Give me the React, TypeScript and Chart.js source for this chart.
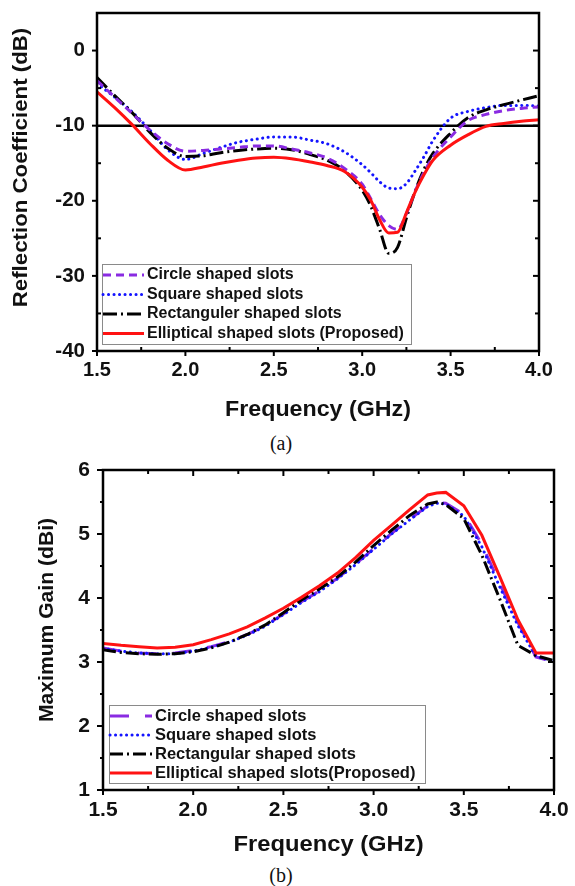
import React, { useEffect, useRef } from "react";
import { Chart, registerables } from "chart.js";
Chart.register(...registerables);

// ---------- (a) Reflection coefficient ----------
const freqA = [1.5, 1.6, 1.7, 1.8, 1.9, 2.0, 2.1, 2.2, 2.3, 2.4, 2.5, 2.6, 2.7, 2.8, 2.9, 3.0, 3.05, 3.1, 3.15, 3.2, 3.25, 3.3, 3.35, 3.4, 3.5, 3.6, 3.7, 3.8, 3.9, 4.0];
const circleA = [-4.0, -6.2, -8.4, -10.6, -12.4, -13.4, -13.3, -13.1, -12.9, -12.7, -12.7, -13.1, -13.6, -14.3, -15.7, -17.8, -19.8, -21.9, -23.3, -23.8, -21.7, -18.7, -16.2, -14.2, -11.5, -9.3, -8.5, -8.0, -7.7, -7.5];
const squareA = [-4.4, -6.2, -8.2, -10.6, -13.2, -14.5, -13.7, -12.9, -12.2, -11.8, -11.5, -11.5, -11.9, -12.4, -13.5, -15.2, -16.3, -17.5, -18.3, -18.4, -17.7, -16.0, -14.1, -12.0, -9.0, -8.1, -7.6, -7.3, -7.3, -7.4];
const rectA = [-3.6, -6.0, -8.3, -10.9, -13.0, -14.1, -14.0, -13.6, -13.3, -13.1, -13.0, -13.2, -13.8, -14.6, -16.0, -18.6, -20.8, -23.9, -27.0, -26.2, -22.3, -18.7, -15.8, -13.7, -11.0, -8.9, -7.9, -7.2, -6.6, -6.0];
const ellipA = [-5.5, -7.6, -9.9, -12.4, -14.6, -15.9, -15.5, -15.0, -14.6, -14.3, -14.2, -14.4, -14.8, -15.3, -16.1, -18.2, -20.0, -22.6, -24.3, -24.2, -21.6, -18.8, -16.5, -14.6, -12.6, -11.2, -10.1, -9.7, -9.4, -9.2];
const thresholdA = -10;
const labelsA = ["Circle shaped slots", "Square shaped slots", "Rectanguler shaped slots", "Elliptical shaped slots (Proposed)"];
const yTicksA = [-40, -30, -20, -10, 0];
const yMinorA = [-35, -25, -15, -5];

// ---------- (b) Maximum gain ----------
const freqB = [1.5, 1.6, 1.7, 1.8, 1.9, 2.0, 2.1, 2.2, 2.3, 2.4, 2.5, 2.6, 2.7, 2.8, 2.9, 3.0, 3.1, 3.2, 3.3, 3.35, 3.4, 3.5, 3.6, 3.7, 3.8, 3.9, 4.0];
const circleB = [3.22, 3.17, 3.14, 3.13, 3.14, 3.18, 3.24, 3.32, 3.43, 3.57, 3.75, 3.94, 4.11, 4.31, 4.53, 4.77, 5.01, 5.23, 5.44, 5.49, 5.48, 5.31, 4.84, 4.22, 3.62, 3.08, 3.0];
const squareB = [3.21, 3.17, 3.14, 3.13, 3.13, 3.17, 3.23, 3.31, 3.42, 3.56, 3.74, 3.93, 4.1, 4.3, 4.52, 4.76, 5.0, 5.22, 5.43, 5.48, 5.47, 5.28, 4.8, 4.17, 3.57, 3.09, 3.01];
const rectB = [3.19, 3.15, 3.13, 3.12, 3.13, 3.16, 3.22, 3.31, 3.43, 3.58, 3.77, 3.97, 4.14, 4.33, 4.56, 4.82, 5.06, 5.29, 5.47, 5.5, 5.46, 5.24, 4.67, 3.98, 3.26, 3.1, 3.02];
const ellipB = [3.29, 3.26, 3.24, 3.22, 3.23, 3.27, 3.35, 3.44, 3.55, 3.69, 3.84, 4.01, 4.19, 4.39, 4.63, 4.9, 5.14, 5.38, 5.61, 5.64, 5.65, 5.44, 4.98, 4.33, 3.66, 3.14, 3.14];
const labelsB = ["Circle shaped slots", "Square shaped slots", "Rectangular shaped slots", "Elliptical shaped slots(Proposed)"];
const yTicksB = [1, 2, 3, 4, 5, 6];
const yMinorB = [1.5, 2.5, 3.5, 4.5, 5.5];

// ---------- shared ----------
const xTicks = [1.5, 2.0, 2.5, 3.0, 3.5, 4.0];
const xMinor = [1.75, 2.25, 2.75, 3.25, 3.75];

const SANS = "'Liberation Sans', Arial, Helvetica, sans-serif";
const PURPLE = "#8a2be2";
const BLUE = "#1414ff";
const BLACK = "#000000";
const RED = "#ff1212";

type SideSpec = { major: number; minor: number };

function decorPlugin(cfg: { sides: Record<string, SideSpec>; minorX: number[]; minorY: number[]; frame: number }) {
  return {
    id: "decor",
    afterDatasetsDraw(chart: any) {
      const { ctx, chartArea: a, scales } = chart;
      const xs = scales.x, ys = scales.y;
      ctx.save();
      ctx.strokeStyle = "#000";
      ctx.lineCap = "butt";
      ctx.lineWidth = 2;
      const seg = (x1: number, y1: number, x2: number, y2: number) => {
        ctx.beginPath(); ctx.moveTo(x1, y1); ctx.lineTo(x2, y2); ctx.stroke();
      };
      const xMaj = xs.ticks.map((t: any) => t.value);
      const yMaj = ys.ticks.map((t: any) => t.value);
      const doX = (vals: number[], len: number, side: string) => {
        if (!len) return;
        vals.forEach((v) => {
          const p = xs.getPixelForValue(v);
          if (side === "bottom") seg(p, a.bottom, p, a.bottom + len);
          else seg(p, a.top, p, a.top - len);
        });
      };
      const doY = (vals: number[], len: number, side: string) => {
        if (!len) return;
        vals.forEach((v) => {
          const p = ys.getPixelForValue(v);
          if (side === "left") seg(a.left, p, a.left - len, p);
          else seg(a.right, p, a.right + len, p);
        });
      };
      const s = cfg.sides;
      if (s.bottom) { doX(xMaj, s.bottom.major, "bottom"); doX(cfg.minorX, s.bottom.minor, "bottom"); }
      if (s.top) { doX(xMaj, s.top.major, "top"); doX(cfg.minorX, s.top.minor, "top"); }
      if (s.left) { doY(yMaj, s.left.major, "left"); doY(cfg.minorY, s.left.minor, "left"); }
      if (s.right) { doY(yMaj, s.right.major, "right"); doY(cfg.minorY, s.right.minor, "right"); }
      ctx.lineWidth = cfg.frame;
      ctx.strokeRect(a.left, a.top, a.right - a.left, a.bottom - a.top);
      ctx.restore();
    },
  };
}

function legendPlugin(cfg: { dx: number; dy: number; w: number; h: number; first: number; gap: number; s0: number; s1: number; tx: number; size: number }) {
  return {
    id: "boxLegend",
    afterDraw(chart: any) {
      const { ctx, chartArea: a } = chart;
      const items = chart.data.datasets.filter((d: any) => d.label);
      const left = a.left + cfg.dx;
      const top = a.bottom - cfg.dy - cfg.h;
      ctx.save();
      ctx.fillStyle = "#fff";
      ctx.fillRect(left, top, cfg.w, cfg.h);
      ctx.strokeStyle = "#8a8a8a";
      ctx.lineWidth = 1;
      ctx.strokeRect(left + 0.5, top + 0.5, cfg.w, cfg.h);
      items.forEach((d: any, i: number) => {
        const y = top + cfg.first + i * cfg.gap;
        ctx.strokeStyle = d.borderColor;
        ctx.lineWidth = d.borderWidth;
        ctx.lineCap = d.borderCapStyle || "butt";
        ctx.setLineDash(d.borderDash || []);
        ctx.beginPath();
        ctx.moveTo(left + cfg.s0, y);
        ctx.lineTo(left + cfg.s1, y);
        ctx.stroke();
        ctx.setLineDash([]);
        ctx.fillStyle = "#111";
        ctx.font = `bold ${cfg.size}px ${SANS}`;
        ctx.textAlign = "left";
        ctx.textBaseline = "middle";
        ctx.fillText(d.label, left + cfg.tx, y);
      });
      ctx.restore();
    },
  };
}

function titlesPlugin(cfg: {
  x: { text: string; size: number; stretch: number; dy: number };
  y: { text: string; size: number; stretch: number; dx: number; dy: number };
}) {
  return {
    id: "axisTitles",
    afterDraw(chart: any) {
      const { ctx, chartArea: a } = chart;
      ctx.save();
      ctx.fillStyle = "#111";
      ctx.textAlign = "center";
      ctx.textBaseline = "middle";
      ctx.font = `bold ${cfg.x.size}px ${SANS}`;
      ctx.translate((a.left + a.right) / 2, a.bottom + cfg.x.dy);
      ctx.scale(cfg.x.stretch, 1);
      ctx.fillText(cfg.x.text, 0, 0);
      ctx.restore();
      ctx.save();
      ctx.fillStyle = "#111";
      ctx.textAlign = "center";
      ctx.textBaseline = "middle";
      ctx.font = `bold ${cfg.y.size}px ${SANS}`;
      ctx.translate(a.left + cfg.y.dx, (a.top + a.bottom) / 2 + cfg.y.dy);
      ctx.rotate(-Math.PI / 2);
      ctx.scale(cfg.y.stretch, 1);
      ctx.fillText(cfg.y.text, 0, 0);
      ctx.restore();
    },
  };
}

const pts = (xs: number[], ys: number[]) => xs.map((x, i) => ({ x, y: ys[i] }));

const fixX = (h: number) => (s: any) => { s.height = h; s.paddingLeft = 0; s.paddingRight = 0; s.paddingTop = 0; s.paddingBottom = 0; };
const fixY = (w: number) => (s: any) => { s.width = w; s.paddingLeft = 0; s.paddingRight = 0; s.paddingTop = 0; s.paddingBottom = 0; };

function buildA(): any {
  const labels = labelsA;
  return {
    type: "line",
    data: {
      datasets: [
        { label: labels[0], data: pts(freqA, circleA), borderColor: PURPLE, borderWidth: 3, borderDash: [8, 5], order: 1 },
        { label: labels[1], data: pts(freqA, squareA), borderColor: BLUE, borderWidth: 3, borderDash: [0.1, 5.4], borderCapStyle: "round", order: 3 },
        { label: labels[2], data: pts(freqA, rectA), borderColor: BLACK, borderWidth: 3, borderDash: [14, 4, 2, 4], order: 2 },
        { label: labels[3], data: pts(freqA, ellipA), borderColor: RED, borderWidth: 3, order: 0 },
        { label: "", data: [{ x: freqA[0], y: thresholdA }, { x: freqA[freqA.length - 1], y: thresholdA }], borderColor: BLACK, borderWidth: 2.5, order: 5 },
      ],
    },
    options: {
      animation: false,
      responsive: false,
      devicePixelRatio: 1,
      layout: { padding: { left: 0, top: 13, right: 36, bottom: 0 } },
      elements: { point: { radius: 0 }, line: { cubicInterpolationMode: "monotone", fill: false } },
      plugins: { legend: { display: false }, tooltip: { enabled: false } },
      scales: {
        x: {
          type: "linear", min: 1.5, max: 4.0,
          grid: { display: false, drawTicks: false }, border: { display: false },
          afterBuildTicks: (s: any) => { s.ticks = xTicks.map((v) => ({ value: v })); },
          afterFit: fixX(79),
          ticks: { padding: 7, maxRotation: 0, autoSkip: false, color: "#111", font: { family: SANS, size: 20, weight: "bold" }, callback: (v: any) => Number(v).toFixed(1) },
        },
        y: {
          type: "linear", min: -40, max: 5,
          grid: { display: false, drawTicks: false }, border: { display: false },
          afterBuildTicks: (s: any) => { s.ticks = yTicksA.map((v) => ({ value: v })); },
          afterFit: fixY(97),
          ticks: { padding: 12, color: "#111", font: { family: SANS, size: 20.5, weight: "bold" }, callback: (v: any) => String(v) },
        },
      },
    },
    plugins: [
      decorPlugin({ sides: { left: { major: 5, minor: -4 }, bottom: { major: 5, minor: -4 }, right: { major: -6, minor: -4 } }, minorX: xMinor, minorY: yMinorA, frame: 2.5 }),
      legendPlugin({ dx: 5, dy: 7, w: 309, h: 80, first: 11, gap: 19.5, s0: 1, s1: 42, tx: 45, size: 16 }),
      titlesPlugin({
        x: { text: "Frequency (GHz)", size: 21.5, stretch: 1.08, dy: 59 },
        y: { text: "Reflection Coefficient (dB)", size: 21, stretch: 1.06, dx: -75.5, dy: -14.5 },
      }),
    ],
  };
}

function buildB(): any {
  const labels = labelsB;
  return {
    type: "line",
    data: {
      datasets: [
        { label: labels[0], data: pts(freqB, circleB), borderColor: PURPLE, borderWidth: 3, borderDash: [19, 16], order: 3 },
        { label: labels[1], data: pts(freqB, squareB), borderColor: BLUE, borderWidth: 3, borderDash: [0.1, 5.4], borderCapStyle: "round", order: 2 },
        { label: labels[2], data: pts(freqB, rectB), borderColor: BLACK, borderWidth: 3, borderDash: [13, 4, 2, 4], order: 1 },
        { label: labels[3], data: pts(freqB, ellipB), borderColor: RED, borderWidth: 3, order: 0 },
      ],
    },
    options: {
      animation: false,
      responsive: false,
      devicePixelRatio: 1,
      layout: { padding: { left: 0, top: 40, right: 21, bottom: 0 } },
      elements: { point: { radius: 0 }, line: { tension: 0, fill: false } },
      plugins: { legend: { display: false }, tooltip: { enabled: false } },
      scales: {
        x: {
          type: "linear", min: 1.5, max: 4.0,
          grid: { display: false, drawTicks: false }, border: { display: false },
          afterBuildTicks: (s: any) => { s.ticks = xTicks.map((v) => ({ value: v })); },
          afterFit: fixX(70),
          ticks: { padding: 8, maxRotation: 0, autoSkip: false, color: "#111", font: { family: SANS, size: 21, weight: "bold" }, callback: (v: any) => Number(v).toFixed(1) },
        },
        y: {
          type: "linear", min: 1, max: 6,
          grid: { display: false, drawTicks: false }, border: { display: false },
          afterBuildTicks: (s: any) => { s.ticks = yTicksB.map((v) => ({ value: v })); },
          afterFit: fixY(103),
          ticks: { padding: 13, color: "#111", font: { family: SANS, size: 21, weight: "bold" }, callback: (v: any) => String(v) },
        },
      },
    },
    plugins: [
      decorPlugin({ sides: { left: { major: 6, minor: 3 }, bottom: { major: 5, minor: -4 }, right: { major: -6, minor: -4 }, top: { major: -6, minor: -4 } }, minorX: xMinor, minorY: yMinorB, frame: 2.5 }),
      legendPlugin({ dx: 6, dy: 7, w: 316, h: 78, first: 11, gap: 19, s0: 1, s1: 43, tx: 46, size: 16.5 }),
      titlesPlugin({
        x: { text: "Frequency (GHz)", size: 22, stretch: 1.08, dy: 55 },
        y: { text: "Maximum Gain (dBi)", size: 20.5, stretch: 1.03, dx: -56, dy: -10 },
      }),
    ],
  };
}

function ChartCanvas({ top, height, build }: { top: number; height: number; build: () => any }) {
  const ref = useRef<HTMLCanvasElement>(null);
  useEffect(() => {
    const chart = new Chart(ref.current as HTMLCanvasElement, build());
    return () => chart.destroy();
  }, []);
  return (
    <canvas
      ref={ref}
      width={575}
      height={height}
      style={{ position: "absolute", left: 0, top, width: 575, height, display: "block" }}
    />
  );
}

const captionStyle: React.CSSProperties = {
  position: "absolute",
  left: 0,
  width: 562,
  textAlign: "center",
  fontFamily: "'Liberation Serif', 'Times New Roman', serif",
  fontSize: 20,
  lineHeight: "24px",
  color: "#111",
};

export default function App() {
  return (
    <div style={{ position: "absolute", left: 0, top: 0, width: 575, height: 886, background: "#fff", overflow: "hidden" }}>
      <ChartCanvas top={0} height={430} build={buildA} />
      <div style={{ ...captionStyle, top: 431 }}>(a)</div>
      <ChartCanvas top={430} height={430} build={buildB} />
      <div style={{ ...captionStyle, top: 863 }}>(b)</div>
    </div>
  );
}
